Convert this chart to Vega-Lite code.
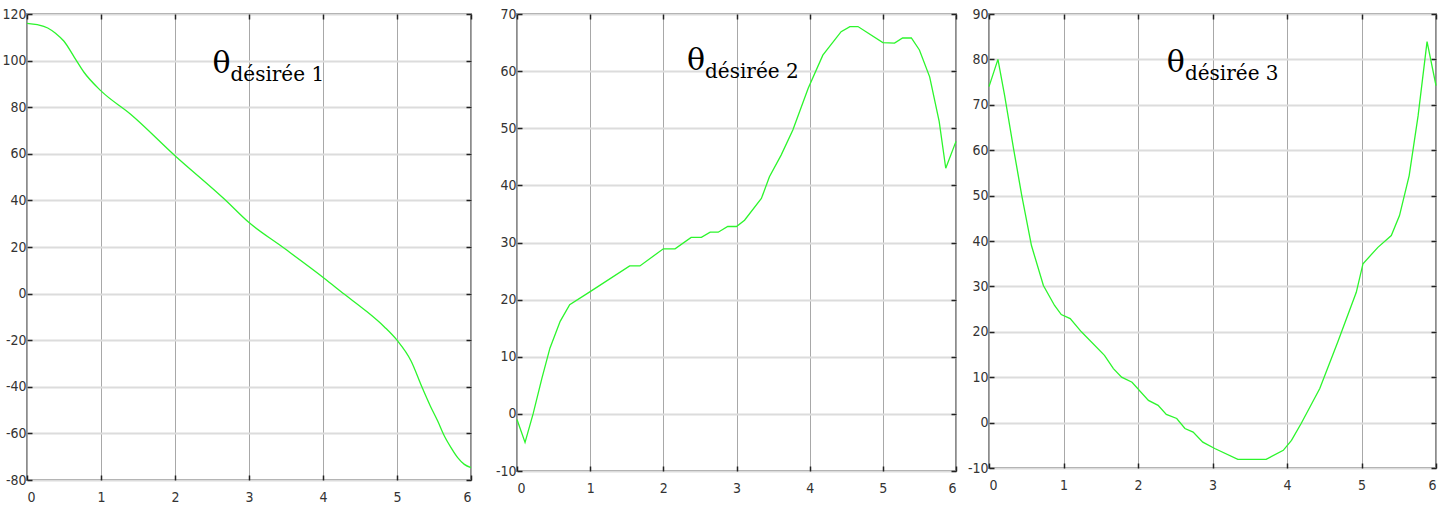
{
  "$schema": "https://vega.github.io/schema/vega-lite/v6.json",
  "padding": {"left": 0, "top": 6, "right": 5, "bottom": 5},
  "background": "white",
  "spacing": 46,
  "bounds": "flush",
  "config": {
    "view": {"stroke": "#8c8c8c", "strokeWidth": 2},
    "axis": {
      "labelFont": "Liberation Sans Narrow, DejaVu Sans Condensed, sans-serif",
      "labelFontSize": 14,
      "labelColor": "#333333",
      "labelExpr": "datum.value + ''",
      "title": null,
      "domain": false,
      "tickColor": "#222222",
      "tickWidth": 1.5,
      "tickSize": -5
    },
    "text": {"font": "DejaVu Serif", "color": "#000000", "baseline": "alphabetic"}
  },
  "hconcat": [
    {
      "width": 444,
      "height": 466,
      "data": {"values": [
        {"t": 0, "v": 116}, {"t": 0.14, "v": 115.4}, {"t": 0.28, "v": 114}, {"t": 0.39, "v": 111.6},
        {"t": 0.5, "v": 108.3}, {"t": 0.64, "v": 101.4}, {"t": 0.77, "v": 95}, {"t": 1.0, "v": 87},
        {"t": 1.4, "v": 77}, {"t": 2.0, "v": 59.2}, {"t": 2.67, "v": 40.5}, {"t": 3.0, "v": 30.5},
        {"t": 3.43, "v": 20.5}, {"t": 4.02, "v": 6.5}, {"t": 4.29, "v": -0.3}, {"t": 4.56, "v": -6.9},
        {"t": 4.83, "v": -14.3}, {"t": 5.0, "v": -20}, {"t": 5.19, "v": -28.9}, {"t": 5.34, "v": -40.3},
        {"t": 5.45, "v": -48.2}, {"t": 5.55, "v": -54.7}, {"t": 5.64, "v": -61.1}, {"t": 5.73, "v": -66.1},
        {"t": 5.82, "v": -70.4}, {"t": 5.91, "v": -73.3}, {"t": 6, "v": -74.7}
      ]},
      "resolve": {"axis": {"x": "independent", "y": "independent"}},
      "layer": [
        {
          "mark": {"type": "line", "color": "#2cf52c", "strokeWidth": 1.3, "interpolate": "monotone"},
          "encoding": {
            "x": {"field": "t", "type": "quantitative", "scale": {"domain": [0, 6], "nice": false, "zero": false},
                  "axis": {"orient": "bottom", "values": [0, 1, 2, 3, 4, 5, 6], "grid": true, "gridColor": "#a8a8a8", "gridWidth": 1, "labelPadding": 15}},
            "y": {"field": "v", "type": "quantitative", "scale": {"domain": [-80, 120], "nice": false, "zero": false},
                  "axis": {"orient": "left", "values": [-80, -60, -40, -20, 0, 20, 40, 60, 80, 100, 120], "grid": true, "gridColor": "#dcdcdc", "gridWidth": 2, "labelPadding": 6}}
          }
        },
        {
          "data": {"values": [{}]},
          "mark": {"type": "text", "text": "θ", "fontSize": 30, "align": "right"},
          "encoding": {
            "x": {"datum": 2.75, "type": "quantitative", "scale": {"domain": [0, 6], "nice": false, "zero": false},
                  "axis": {"orient": "top", "values": [0, 1, 2, 3, 4, 5, 6], "labels": false, "grid": false}},
            "y": {"datum": 94.7, "type": "quantitative", "scale": {"domain": [-80, 120], "nice": false, "zero": false},
                  "axis": {"orient": "right", "values": [-80, -60, -40, -20, 0, 20, 40, 60, 80, 100, 120], "labels": false, "grid": false}}
          }
        },
        {
          "data": {"values": [{}]},
          "mark": {"type": "text", "text": "désirée 1", "fontSize": 20, "align": "left", "dy": 8},
          "encoding": {
            "x": {"datum": 2.75, "type": "quantitative", "scale": {"domain": [0, 6], "nice": false, "zero": false}, "axis": null},
            "y": {"datum": 94.7, "type": "quantitative", "scale": {"domain": [-80, 120], "nice": false, "zero": false}, "axis": null}
          }
        }
      ]
    },
    {
      "spacing": 33,
      "bounds": "flush",
      "hconcat": [
        {
          "width": 439,
          "height": 457,
          "data": {"values": [
            {"t": 0, "v": -1}, {"t": 0.11, "v": -5}, {"t": 0.22, "v": 0}, {"t": 0.34, "v": 6.2},
            {"t": 0.45, "v": 11.5}, {"t": 0.59, "v": 16.2}, {"t": 0.72, "v": 19.1}, {"t": 1.0, "v": 21.4},
            {"t": 1.54, "v": 25.9}, {"t": 1.68, "v": 25.9}, {"t": 2.0, "v": 28.9}, {"t": 2.16, "v": 28.9},
            {"t": 2.38, "v": 30.9}, {"t": 2.52, "v": 30.9}, {"t": 2.64, "v": 31.8}, {"t": 2.75, "v": 31.8},
            {"t": 2.88, "v": 32.8}, {"t": 3.0, "v": 32.8}, {"t": 3.11, "v": 33.9}, {"t": 3.34, "v": 37.7},
            {"t": 3.45, "v": 41.5}, {"t": 3.61, "v": 45.3}, {"t": 3.77, "v": 49.7}, {"t": 3.98, "v": 57},
            {"t": 4.18, "v": 62.8}, {"t": 4.43, "v": 66.9}, {"t": 4.55, "v": 67.8}, {"t": 4.66, "v": 67.8},
            {"t": 5.0, "v": 65}, {"t": 5.16, "v": 64.9}, {"t": 5.27, "v": 65.8}, {"t": 5.39, "v": 65.8},
            {"t": 5.5, "v": 63.7}, {"t": 5.64, "v": 59}, {"t": 5.77, "v": 51.2}, {"t": 5.86, "v": 43},
            {"t": 6, "v": 47.7}
          ]},
          "resolve": {"axis": {"x": "independent", "y": "independent"}},
          "layer": [
            {
              "mark": {"type": "line", "color": "#2cf52c", "strokeWidth": 1.3},
              "encoding": {
                "x": {"field": "t", "type": "quantitative", "scale": {"domain": [0, 6], "nice": false, "zero": false},
                      "axis": {"orient": "bottom", "values": [0, 1, 2, 3, 4, 5, 6], "grid": true, "gridColor": "#a8a8a8", "gridWidth": 1, "labelPadding": 15}},
                "y": {"field": "v", "type": "quantitative", "scale": {"domain": [-10, 70], "nice": false, "zero": false},
                      "axis": {"orient": "left", "values": [-10, 0, 10, 20, 30, 40, 50, 60, 70], "grid": true, "gridColor": "#dcdcdc", "gridWidth": 2, "labelPadding": 6}}
              }
            },
            {
              "data": {"values": [{}]},
              "mark": {"type": "text", "text": "θ", "fontSize": 30, "align": "right"},
              "encoding": {
                "x": {"datum": 2.57, "type": "quantitative", "scale": {"domain": [0, 6], "nice": false, "zero": false},
                      "axis": {"orient": "top", "values": [0, 1, 2, 3, 4, 5, 6], "labels": false, "grid": false}},
                "y": {"datum": 60.2, "type": "quantitative", "scale": {"domain": [-10, 70], "nice": false, "zero": false},
                      "axis": {"orient": "right", "values": [-10, 0, 10, 20, 30, 40, 50, 60, 70], "labels": false, "grid": false}}
              }
            },
            {
              "data": {"values": [{}]},
              "mark": {"type": "text", "text": "désirée 2", "fontSize": 20, "align": "left", "dy": 8},
              "encoding": {
                "x": {"datum": 2.57, "type": "quantitative", "scale": {"domain": [0, 6], "nice": false, "zero": false}, "axis": null},
                "y": {"datum": 60.2, "type": "quantitative", "scale": {"domain": [-10, 70], "nice": false, "zero": false}, "axis": null}
              }
            }
          ]
        },
        {
          "width": 447,
          "height": 454,
          "data": {"values": [
            {"t": 0, "v": 74}, {"t": 0.12, "v": 80}, {"t": 0.21, "v": 72}, {"t": 0.33, "v": 60.3},
            {"t": 0.44, "v": 50}, {"t": 0.57, "v": 39}, {"t": 0.73, "v": 30.2}, {"t": 0.88, "v": 25.8},
            {"t": 0.97, "v": 23.8}, {"t": 1.09, "v": 22.9}, {"t": 1.24, "v": 20}, {"t": 1.55, "v": 14.8},
            {"t": 1.67, "v": 11.9}, {"t": 1.78, "v": 10}, {"t": 1.92, "v": 8.9}, {"t": 2.14, "v": 4.9},
            {"t": 2.27, "v": 3.8}, {"t": 2.38, "v": 1.8}, {"t": 2.52, "v": 0.9}, {"t": 2.63, "v": -1.3},
            {"t": 2.74, "v": -2.1}, {"t": 2.87, "v": -4.3}, {"t": 3.03, "v": -5.7}, {"t": 3.34, "v": -8.1},
            {"t": 3.72, "v": -8.1}, {"t": 3.95, "v": -6.1}, {"t": 4.06, "v": -3.9}, {"t": 4.19, "v": -0.2},
            {"t": 4.44, "v": 7.5}, {"t": 4.68, "v": 17.7}, {"t": 4.93, "v": 28.7}, {"t": 5.02, "v": 35},
            {"t": 5.22, "v": 38.6}, {"t": 5.4, "v": 41.2}, {"t": 5.51, "v": 45.6}, {"t": 5.64, "v": 54.4},
            {"t": 5.76, "v": 67.6}, {"t": 5.88, "v": 83.9}, {"t": 6, "v": 74.2}
          ]},
          "resolve": {"axis": {"x": "independent", "y": "independent"}},
          "layer": [
            {
              "mark": {"type": "line", "color": "#2cf52c", "strokeWidth": 1.3},
              "encoding": {
                "x": {"field": "t", "type": "quantitative", "scale": {"domain": [0, 6], "nice": false, "zero": false},
                      "axis": {"orient": "bottom", "values": [0, 1, 2, 3, 4, 5, 6], "grid": true, "gridColor": "#a8a8a8", "gridWidth": 1, "labelPadding": 15}},
                "y": {"field": "v", "type": "quantitative", "scale": {"domain": [-10, 90], "nice": false, "zero": false},
                      "axis": {"orient": "left", "values": [-10, 0, 10, 20, 30, 40, 50, 60, 70, 80, 90], "grid": true, "gridColor": "#dcdcdc", "gridWidth": 2, "labelPadding": 6}}
              }
            },
            {
              "data": {"values": [{}]},
              "mark": {"type": "text", "text": "θ", "fontSize": 30, "align": "right"},
              "encoding": {
                "x": {"datum": 2.63, "type": "quantitative", "scale": {"domain": [0, 6], "nice": false, "zero": false},
                      "axis": {"orient": "top", "values": [0, 1, 2, 3, 4, 5, 6], "labels": false, "grid": false}},
                "y": {"datum": 77.2, "type": "quantitative", "scale": {"domain": [-10, 90], "nice": false, "zero": false},
                      "axis": {"orient": "right", "values": [-10, 0, 10, 20, 30, 40, 50, 60, 70, 80, 90], "labels": false, "grid": false}}
              }
            },
            {
              "data": {"values": [{}]},
              "mark": {"type": "text", "text": "désirée 3", "fontSize": 20, "align": "left", "dy": 8},
              "encoding": {
                "x": {"datum": 2.63, "type": "quantitative", "scale": {"domain": [0, 6], "nice": false, "zero": false}, "axis": null},
                "y": {"datum": 77.2, "type": "quantitative", "scale": {"domain": [-10, 90], "nice": false, "zero": false}, "axis": null}
              }
            }
          ]
        }
      ]
    }
  ]
}
